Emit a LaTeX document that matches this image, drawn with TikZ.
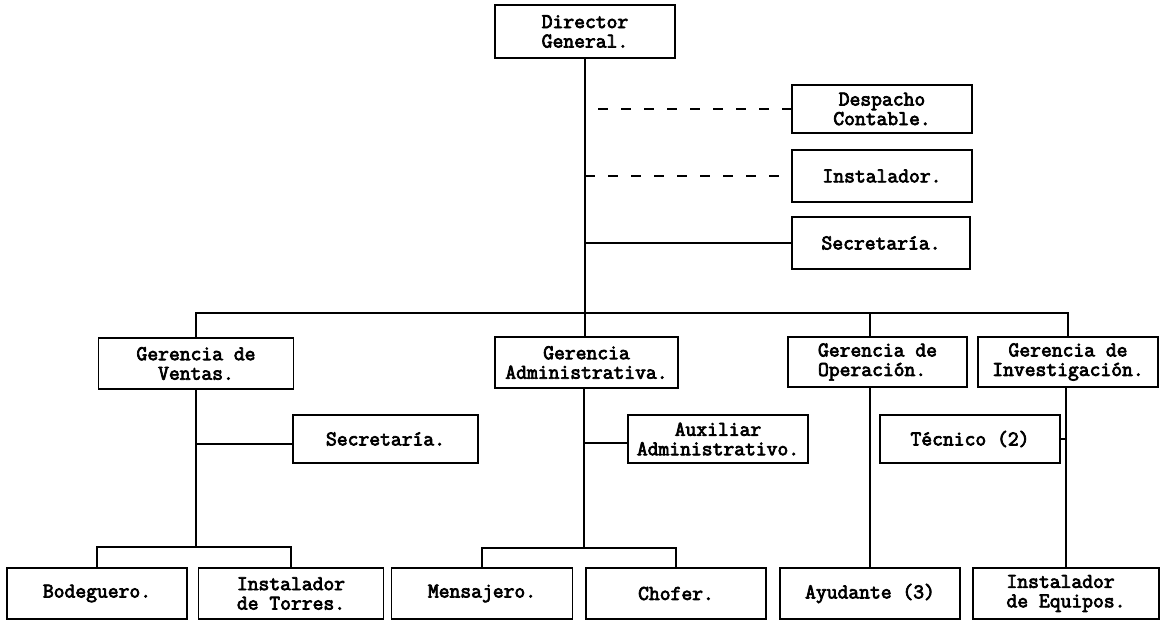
\documentclass[tikz,border=0pt]{standalone}
\usepackage{fontspec}
\newfontfamily\twfont[FakeBold=3.5]{Latin Modern Mono}
\begin{document}
\begin{tikzpicture}[x=1pt,y=-1pt,
  box/.style={draw, line width=1.4pt, inner sep=0pt, font=\twfont\fontsize{21}{19.5}\selectfont, align=center},
  conn/.style={line width=1.4pt},
  dline/.style={line width=1.4pt, dash pattern=on 10pt off 13pt},
]
\useasboundingbox (0,0) rectangle (1164,621);
% top
\node[box, minimum width=180, minimum height=53] (dg) at (585,31.5) {Director\\General.};
\node[box, minimum width=180, minimum height=48] (desp) at (882,109) {Despacho\\Contable.};
\node[box, minimum width=180, minimum height=52] (inst) at (882,176) {Instalador.};
\node[box, minimum width=178, minimum height=52] (sec1) at (881,243) {Secretaría.};
% managers
\node[box, minimum width=195, minimum height=51] (ven) at (196,363.5) {Gerencia de\\Ventas.};
\node[box, minimum width=183, minimum height=51] (adm) at (586.5,362.5) {Gerencia\\Administrativa.};
\node[box, minimum width=179, minimum height=50, align=left] (ope) at (877.5,362) {Gerencia de\\Operación.};
\node[box, minimum width=180, minimum height=50] (inv) at (1068,362) {Gerencia de\\Investigación.};
% middle
\node[box, minimum width=185, minimum height=48] (sec2) at (385.5,439) {Secretaría.};
\node[box, minimum width=180, minimum height=48] (aux) at (718,439) {Auxiliar\\Administrativo.};
\node[box, minimum width=180, minimum height=48] (tec) at (970,439) {Técnico (2)};
% bottom
\node[box, minimum width=180, minimum height=51] (bod) at (97,593.5) {Bodeguero.};
\node[box, minimum width=185, minimum height=51, align=left] (tor) at (291,593.5) {Instalador\\de Torres.};
\node[box, minimum width=181, minimum height=51] (men) at (482,593.5) {Mensajero.};
\node[box, minimum width=180, minimum height=51] (cho) at (676,593.5) {Chofer.};
\node[box, minimum width=180, minimum height=51] (ayu) at (870,593.5) {Ayudante (3)};
\node[box, minimum width=186, minimum height=51, align=left] (equ) at (1066,593.5) {Instalador\\de Equipos.};
% coordinates
\coordinate (bus) at (585,313);
\coordinate (vb) at (196,547);
\coordinate (ab) at (584,548);
% connectors from director
\draw[conn] (dg.south) -- (dg.south |- adm.north);
\draw[dline, shorten <=13pt] (dg.south |- desp.west) -- (desp.west);
\draw[dline] (dg.south |- inst.west) -- (inst.west);
\draw[conn] (dg.south |- sec1.west) -- (sec1.west);
% main bus
\draw[conn] (ven.north) |- (bus) -| (inv.north);
\draw[conn] (ayu.north |- bus) -- (ayu.north |- ope.north);
% ventas branch
\draw[conn] (ven.south) -- (vb);
\draw[conn] ([yshift=-5pt]ven.south |- sec2.west) -- ([yshift=-5pt]sec2.west);
\draw[conn] (bod.north) |- (vb) -| (tor.north);
% admin branch
\draw[conn] (ab |- adm.south) -- (ab);
\draw[conn] ([yshift=-4pt]ab |- aux.west) -- ([yshift=-4pt]aux.west);
\draw[conn] (men.north) |- (ab) -| (cho.north);
% operation branch
\draw[conn] (ayu.north |- ope.south) -- (ayu.north);
% investigation branch
\draw[conn] (equ.north |- inv.south) -- (equ.north);
\draw[conn] (tec.east) -- (tec.east -| equ.north);
\end{tikzpicture}
\end{document}
